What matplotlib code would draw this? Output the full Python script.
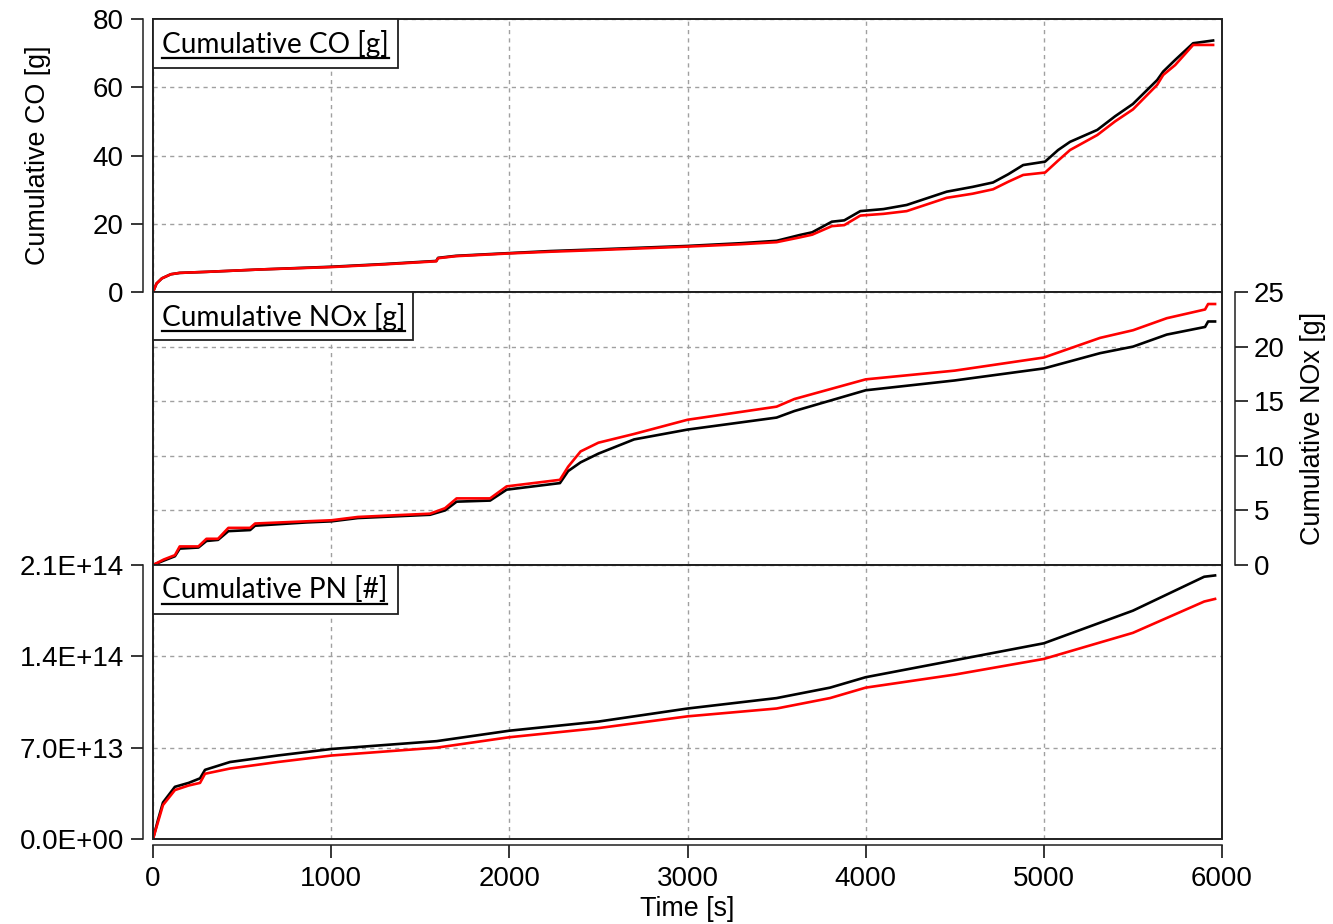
import matplotlib
matplotlib.use("Agg")
import matplotlib.pyplot as plt
from matplotlib.patches import Rectangle
from matplotlib.lines import Line2D
from matplotlib.ticker import FixedLocator, FuncFormatter

# ---------------- data ----------------
t_co = [0, 20, 50, 100, 150, 300, 600, 1000, 1300, 1590, 1600, 1700, 2000, 2230, 2500,
        3000, 3300, 3500, 3630, 3700, 3810, 3880, 3970, 4100, 4230, 4455, 4600, 4715,
        4800, 4884, 5007, 5080, 5147, 5300, 5400, 5500, 5636, 5670, 5737, 5838, 5950]
co_black = [0, 2.5, 4.0, 5.2, 5.6, 5.9, 6.6, 7.4, 8.2, 9.1, 10.0, 10.6, 11.4, 12.0, 12.5,
            13.5, 14.3, 15.0, 16.7, 17.5, 20.6, 21.0, 23.7, 24.3, 25.5, 29.4, 30.8, 32.1,
            34.5, 37.2, 38.2, 41.6, 44.0, 47.5, 51.5, 55.1, 62.1, 64.6, 68.0, 72.9, 73.7]
co_red = [0, 2.5, 4.0, 5.2, 5.6, 5.9, 6.6, 7.3, 8.1, 9.0, 9.9, 10.5, 11.3, 11.8, 12.3,
          13.3, 14.0, 14.6, 16.0, 16.8, 19.3, 19.6, 22.4, 22.9, 23.7, 27.6, 28.8, 30.1,
          32.3, 34.3, 35.0, 38.5, 41.6, 46.0, 50.0, 53.5, 60.7, 63.6, 66.5, 72.4, 72.4]

t_nox = [0, 60, 123, 150, 255, 300, 365, 423, 545, 573, 862, 1003, 1150, 1555, 1639, 1704,
         1892, 1985, 2284, 2330, 2400, 2500, 2700, 3000, 3500, 3600, 4000, 4500, 5000,
         5316, 5501, 5690, 5905, 5922, 5961]
nox_red = [0, 0.5, 0.9, 1.7, 1.7, 2.4, 2.4, 3.4, 3.4, 3.8, 4.0, 4.1, 4.4, 4.7, 5.2, 6.1,
           6.1, 7.2, 7.8, 9.0, 10.4, 11.2, 12.0, 13.3, 14.5, 15.2, 17.0, 17.8, 19.0,
           20.8, 21.5, 22.6, 23.4, 23.9, 23.9]
nox_black = [0, 0.4, 0.8, 1.5, 1.6, 2.2, 2.3, 3.1, 3.2, 3.6, 3.9, 4.0, 4.3, 4.6, 5.0, 5.8,
             5.9, 6.9, 7.5, 8.6, 9.4, 10.2, 11.5, 12.4, 13.5, 14.1, 16.0, 16.9, 18.0,
             19.4, 20.0, 21.1, 21.8, 22.3, 22.3]

t_pn = [0, 28, 56, 123, 200, 264, 292, 432, 700, 1003, 1592, 2000, 2500, 3000, 3500, 3800,
        4000, 4500, 5000, 5200, 5500, 5900, 5961]
pn_black_e13 = [0, 1.46, 2.8, 4.0, 4.3, 4.65, 5.3, 5.9, 6.4, 6.9, 7.5, 8.3, 9.0, 10.0, 10.8,
                11.6, 12.4, 13.7, 15.0, 16.0, 17.5, 20.1, 20.2]
pn_red_e13 = [0, 1.3, 2.6, 3.75, 4.1, 4.3, 5.0, 5.4, 5.9, 6.4, 7.0, 7.8, 8.5, 9.4, 10.0,
              10.8, 11.6, 12.6, 13.8, 14.6, 15.8, 18.2, 18.4]

x_ticks = [0, 1000, 2000, 3000, 4000, 5000, 6000]
co_ticks = [0, 20, 40, 60, 80]
nox_ticks = [0, 5, 10, 15, 20, 25]
pn_ticks = [0, 7.0e13, 1.4e14, 2.1e14]
panel_titles = ["Cumulative CO [g]", "Cumulative NOx [g]", "Cumulative PN [#]"]

# ---------------- figure ----------------
plt.rcParams['font.family'] = ['Liberation Sans', 'DejaVu Sans']
W, H = 1333, 924
fig = plt.figure(figsize=(W / 100, H / 100), dpi=100)

L, R = 153, 1222
rows = [(19, 292), (292, 565), (565, 839)]
axes = []
for top, bot in rows:
    ax = fig.add_axes([L / W, 1 - bot / H, (R - L) / W, (bot - top) / H])
    axes.append(ax)
ax_co, ax_nox, ax_pn = axes

TICK_FS = 20
LAB_FS = 19.4
grid_kw = dict(color='#a0a0a0', linestyle=(0, (3, 3)), linewidth=1.0)

pn_black = [v * 1e13 for v in pn_black_e13]
pn_red = [v * 1e13 for v in pn_red_e13]

series = [
    (ax_co, t_co, co_black, co_red, (0, 80), co_ticks),
    (ax_nox, t_nox, nox_black, nox_red, (0, 25), nox_ticks),
    (ax_pn, t_pn, pn_black, pn_red, (0, 2.1e14), pn_ticks),
]

for ax, t, yb, yr, ylim, yt in series:
    ax.plot(t, yb, color='black', lw=1.9, zorder=3)
    ax.plot(t, yr, color='#ff0000', lw=1.9, zorder=4)
    ax.set_xlim(0, 6000)
    ax.set_ylim(*ylim)
    ax.yaxis.set_major_locator(FixedLocator(yt))
    ax.xaxis.set_major_locator(FixedLocator(x_ticks))
    ax.grid(True, **grid_kw)
    ax.set_axisbelow(True)
    for s in ax.spines.values():
        s.set_visible(False)
    # panel box
    ax.add_patch(Rectangle((0, 0), 1, 1, transform=ax.transAxes, fill=False,
                           edgecolor='#202020', lw=1.4, zorder=6, clip_on=False))
    ax.tick_params(axis='both', labelsize=TICK_FS, length=9, width=1.1,
                   direction='out', colors='black')

# x axes: only the bottom panel shows ticks
for ax in (ax_co, ax_nox):
    ax.tick_params(axis='x', bottom=False, labelbottom=False)
ax_pn.spines['bottom'].set_visible(True)
ax_pn.spines['bottom'].set_position(('outward', 4.5))
ax_pn.spines['bottom'].set_linewidth(1.1)
ax_pn.spines['bottom'].set_color('#202020')
ax_pn.tick_params(axis='x', pad=6)
ax_pn.set_xlabel("Time [s]", fontsize=LAB_FS, labelpad=3)

# left y axes (CO and PN)
for ax in (ax_co, ax_pn):
    sp = ax.spines['left']
    sp.set_visible(True)
    sp.set_position(('outward', 7))
    sp.set_linewidth(1.1)
    sp.set_color('#202020')
    ax.tick_params(axis='y', pad=5)
ax_co.set_ylabel("Cumulative CO [g]", fontsize=LAB_FS, labelpad=30)
ax_pn.yaxis.set_major_formatter(FuncFormatter(lambda v, p: f"{v:.1E}"))

# right y axis (NOx)
ax_nox.yaxis.tick_right()
ax_nox.yaxis.set_label_position('right')
sp = ax_nox.spines['right']
sp.set_visible(True)
sp.set_position(('outward', 9))
sp.set_linewidth(1.1)
sp.set_color('#202020')
ax_nox.tick_params(axis='y', left=False, right=True, labelleft=False, labelright=True, pad=5)
ax_nox.set_ylabel("Cumulative NOx [g]", fontsize=LAB_FS, labelpad=11, rotation=90)

# panel title boxes
box_px = [(245, 49), (260, 48), (245, 49)]
texts = []
for i, (ax, title, (bw, bh)) in enumerate(zip(axes, panel_titles, box_px)):
    ah = rows[i][1] - rows[i][0]
    aw = R - L
    ax.add_patch(Rectangle((0, 1 - bh / ah), bw / aw, bh / ah, transform=ax.transAxes,
                           facecolor='white', edgecolor='#202020', lw=1.3, zorder=7,
                           clip_on=False))
    tx = ax.text(9 / aw, 1 - 25 / ah, title, transform=ax.transAxes, fontsize=20.2,
                 family=['Lato', 'DejaVu Sans'], va='center', ha='left', color='black',
                 zorder=8)
    texts.append((ax, tx, ah, aw))

fig.canvas.draw()
renderer = fig.canvas.get_renderer()
for ax, tx, ah, aw in texts:
    bb = tx.get_window_extent(renderer)
    inv = ax.transAxes.inverted()
    (x0, _), (x1, _) = inv.transform([(bb.x0, bb.y0), (bb.x1, bb.y0)])
    yline = 1 - 38.5 / ah
    ax.add_line(Line2D([x0, x1], [yline, yline], transform=ax.transAxes, color='black',
                       lw=1.6, zorder=9, clip_on=False))

fig.savefig("out.png", dpi=100)
